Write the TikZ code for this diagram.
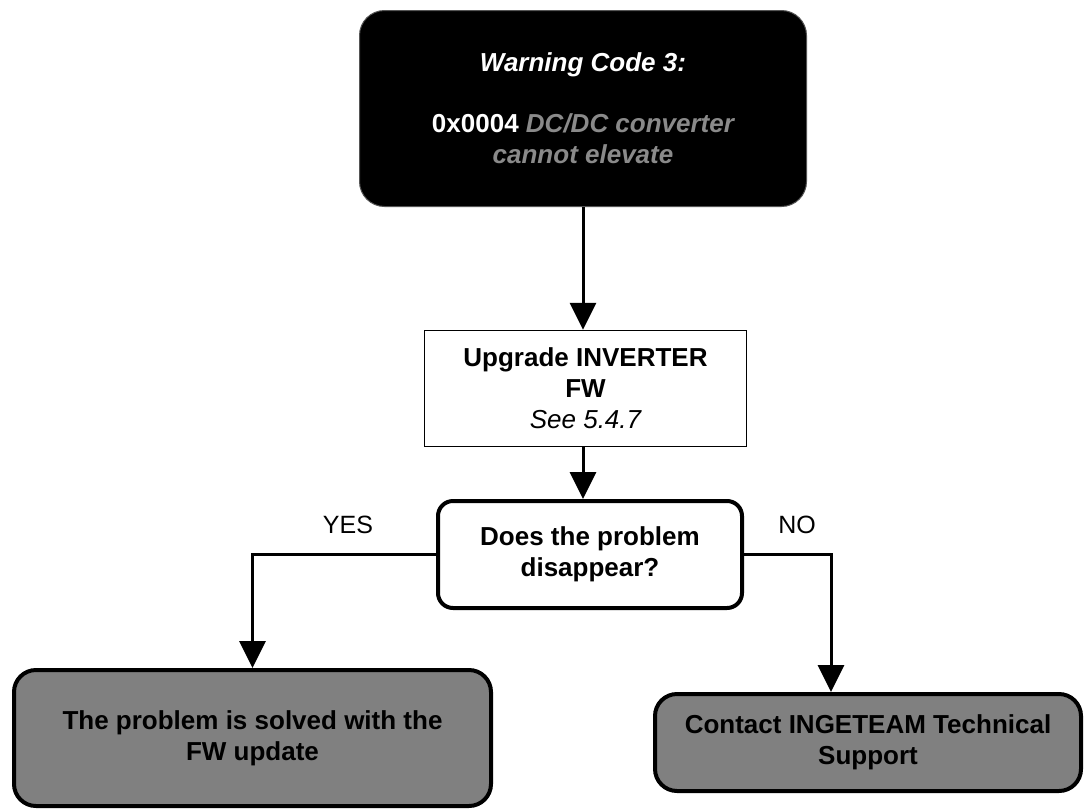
\documentclass[tikz,border=0pt]{standalone}
\usepackage{fontspec}
\setmainfont{Liberation Sans}
\usetikzlibrary{arrows.meta}
\definecolor{boxgray}{HTML}{808080}
\definecolor{textgray}{HTML}{8A8A8A}
\definecolor{rimgray}{HTML}{555555}
\begin{document}
\begin{tikzpicture}[x=1pt,y=-1pt,
  every node/.style={font=\fontsize{26}{31}\selectfont, align=center, inner sep=0pt},
  alertbox/.style={rectangle, rounded corners=25pt, fill=black, draw=rimgray, line width=1pt, text=white},
  actionbox/.style={rectangle, draw=black, line width=1.5pt, fill=white},
  questionbox/.style={rectangle, rounded corners=15pt, draw=black, line width=4pt, fill=white},
  resultbox/.style={rectangle, rounded corners=22pt, draw=black, line width=4pt, fill=boxgray},
  flow/.style={line width=3pt, -{Triangle[width=26pt,length=27pt]}},
  branchlabel/.style={font=\fontsize{25}{30}\selectfont}
]
\useasboundingbox (0,0) rectangle (1091,811);

% boxes
\node[alertbox, minimum width=447pt, minimum height=196pt] (warn) at (583,108.5)
  {\bfseries\itshape Warning Code 3:\\[30pt]
   \bfseries 0x0004 {\color{textgray}\itshape DC/DC converter}\\
   {\color{textgray}\bfseries\itshape cannot elevate}};

\node[actionbox, minimum width=322pt, minimum height=116pt] (upgrade) at (585.5,388.5)
  {\bfseries Upgrade INVERTER\\ \bfseries FW\\ \itshape See 5.4.7};

\node[questionbox, minimum width=304pt, minimum height=107pt] (question) at (590,554.5)
  {\fontsize{26}{33}\selectfont\bfseries Does the problem\\ \bfseries disappear?};

\node[resultbox, minimum width=477pt, minimum height=136pt] (solved) at (252.5,738)
  {\fontsize{26}{33}\selectfont\bfseries The problem is solved with the\\ \bfseries FW update};

\node[resultbox, minimum width=426pt, minimum height=97pt] (support) at (868,742.5)
  {\fontsize{26}{33}\selectfont\bfseries Contact INGETEAM Technical\\ \bfseries Support};

% branch labels
\node[branchlabel] (yes) at (348,525) {YES};
\node[branchlabel] (no) at (797,525) {NO};

% connectors
\draw[flow] (warn.south) -- (warn.south |- upgrade.north);
\draw[flow] (warn.south |- upgrade.south) -- (warn.south |- question.north);
\draw[flow] (question.west) -| (solved.north);
\draw[flow] (question.east) -| ([xshift=-37pt]support.north);
\end{tikzpicture}
\end{document}
